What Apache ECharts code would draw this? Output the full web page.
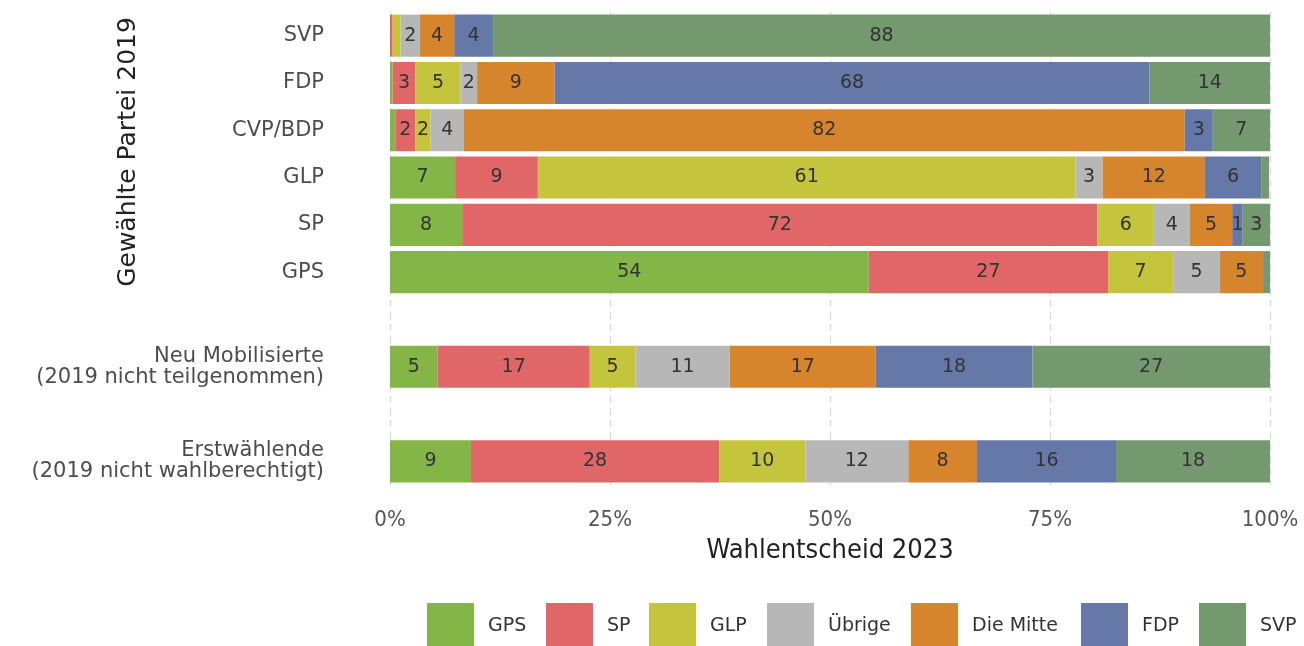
<!DOCTYPE html>
<html>
<head>
<meta charset="utf-8">
<script src="https://cdn.jsdelivr.net/npm/echarts@6/dist/echarts.min.js"></script>
<style>
  html, body { margin: 0; padding: 0; background: #fff; }
  #main { width: 1304px; height: 646px; }
</style>
</head>
<body>
<div id="main"></div>
<script>
// Zeilen von oben nach unten, "" = Leerzeile
var categories = ["SVP", "FDP", "CVP/BDP", "GLP", "SP", "GPS", "",
  "Neu Mobilisierte\n(2019 nicht teilgenommen)", " ",
  "Erstwählende\n(2019 nicht wahlberechtigt)"];
var parties = ["GPS", "SP", "GLP", "Übrige", "Die Mitte", "FDP", "SVP"];
var colors = ["#84b647", "#e06668", "#c5c43d", "#b7b7b7", "#d6852c", "#6678a8", "#74996f"];
var xTicks = [0, 25, 50, 75, 100];

// Anteile in % je Zeile (null = Leerzeile)
var gps    = [0.0, 0.3, 0.6, 7.4, 8.2, 54.4, null, 5.4, null, 9.2];
var sp     = [0.3, 2.6, 2.3, 9.4, 72.2, 27.2, null, 17.3, null, 28.2];
var glp    = [0.9, 5.1, 1.7, 61.1, 6.4, 7.4, null, 5.2, null, 9.8];
var uebrige = [2.2, 1.9, 3.8, 3.1, 4.1, 5.3, null, 10.7, null, 11.7];
var mitte  = [3.9, 8.8, 81.9, 11.6, 4.8, 4.9, null, 16.6, null, 7.8];
var fdp    = [4.4, 67.6, 3.2, 6.4, 1.2, 0.1, null, 17.8, null, 15.8];
var svp    = [88.3, 13.7, 6.5, 0.9, 3.1, 0.7, null, 27.0, null, 17.5];
var values = [gps, sp, glp, uebrige, mitte, fdp, svp];

var legendLeft = [427, 546, 649, 767, 911, 1081, 1199];

var myChart = echarts.init(document.getElementById("main"));

var series = parties.map(function(p, i) {
  return {
    name: p,
    type: "bar",
    stack: "total",
    barCategoryGap: "11%",
    itemStyle: { color: colors[i] },
    label: {
      show: true,
      position: "inside",
      color: "#333333",
      fontSize: 19,
      fontFamily: "DejaVu Sans",
      formatter: function(params) {
        if (params.value == null || params.value < 1) return "";
        return Math.round(params.value);
      }
    },
    emphasis: { disabled: true },
    data: values[i]
  };
});

var legends = parties.map(function(p, i) {
  return {
    data: [p],
    left: legendLeft[i],
    top: 603,
    padding: 0,
    itemWidth: 47,
    itemHeight: 47,
    icon: "rect",
    selectedMode: false,
    textStyle: {
      fontSize: 19,
      color: "#333333",
      fontFamily: "DejaVu Sans",
      padding: [0, 0, 0, 9]
    }
  };
});

var option = {
  animation: false,
  color: colors,
  grid: { left: 390, right: 34, top: 12, bottom: 161, containLabel: false },
  legend: legends,
  graphic: [{
    type: "text",
    x: 128,
    y: 152,
    rotation: Math.PI / 2,
    style: {
      text: "Gewählte Partei 2019",
      fontSize: 25,
      fontFamily: "DejaVu Sans",
      fill: "#222222",
      align: "center",
      verticalAlign: "middle"
    }
  }],
  xAxis: {
    type: "value",
    min: xTicks[0],
    max: xTicks[xTicks.length - 1],
    interval: 25,
    name: "Wahlentscheid 2023",
    nameLocation: "middle",
    nameGap: 52,
    nameTextStyle: { fontSize: 27, color: "#222222", fontFamily: "Liberation Sans Narrow, DejaVu Sans Condensed, sans-serif" },
    axisLine: { show: false },
    axisTick: { show: false },
    axisLabel: {
      formatter: "{value}%",
      fontSize: 22,
      color: "#555555",
      margin: 24,
      fontFamily: "Liberation Sans Narrow, DejaVu Sans Condensed, sans-serif"
    },
    splitLine: { show: true, lineStyle: { color: "#d9d9d9", width: 1.3, type: [7, 5] } }
  },
  yAxis: {
    type: "category",
    inverse: true,
    data: categories,
    axisLine: { show: false },
    axisTick: { show: false },
    splitLine: { show: false },
    axisLabel: {
      fontSize: 21,
      color: "#4d4d4d",
      margin: 66,
      lineHeight: 21,
      fontFamily: "DejaVu Sans",
      align: "right"
    }
  },
  series: series
};

myChart.setOption(option);
</script>
</body>
</html>
